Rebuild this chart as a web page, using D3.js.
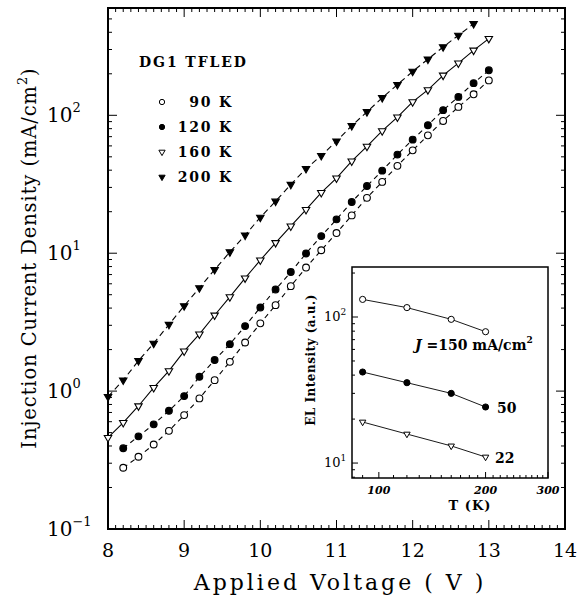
<!DOCTYPE html>
<html>
  <head>
    <script src="https://cdnjs.cloudflare.com/ajax/libs/d3/7.8.5/d3.min.js"></script>
    <style type="text/css">
      body { margin: 0; padding: 0; background: #fff; }
      text { fill: #000; }
      .serif { font-family: "DejaVu Serif", serif; }
      .bold { font-family: "DejaVu Serif", serif; font-weight: bold; }
    </style>
  </head>
  <body>
    <div id="chart"></div>
    <script type="text/javascript">
    // J-V curves, [voltage (V), current density (mA/cm^2)]
    const series90K = [[8.2,0.278],[8.4,0.334],[8.6,0.41],[8.8,0.515],[9.0,0.67],[9.2,0.885],[9.4,1.20],[9.6,1.63],[9.8,2.25],[10.0,3.10],[10.2,4.2],[10.4,5.77],[10.6,7.87],[10.8,10.5],[11.0,14.0],[11.2,18.8],[11.4,25.2],[11.6,32.9],[11.8,43],[12.0,55.7],[12.2,71.6],[12.4,91],[12.6,115],[12.8,142],[13.0,179]];
    const series120K = [[8.2,0.385],[8.4,0.47],[8.6,0.574],[8.8,0.72],[9.0,0.92],[9.2,1.27],[9.4,1.68],[9.6,2.19],[9.8,2.96],[10.0,4.04],[10.2,5.46],[10.4,7.3],[10.6,9.96],[10.8,13.3],[11.0,17.6],[11.2,23.5],[11.4,30.7],[11.6,39.7],[11.8,51.9],[12.0,66.6],[12.2,84.7],[12.4,109],[12.6,136],[12.8,171],[13.0,212]];
    const series160K = [[8.0,0.46],[8.2,0.59],[8.4,0.78],[8.6,1.06],[8.8,1.40],[9.0,1.95],[9.2,2.59],[9.4,3.55],[9.6,4.82],[9.8,6.6],[10.0,8.9],[10.2,11.9],[10.4,15.7],[10.6,20.7],[10.8,27.5],[11.0,35],[11.2,46.5],[11.4,59.5],[11.6,77],[11.8,97],[12.0,125],[12.2,153],[12.4,195],[12.6,239],[12.8,296],[13.0,360]];
    const series200K = [[8.0,0.91],[8.2,1.20],[8.4,1.66],[8.6,2.22],[8.8,3.04],[9.0,4.15],[9.2,5.6],[9.4,7.6],[9.6,10.2],[9.8,13.5],[10.0,18.2],[10.2,23.8],[10.4,31.5],[10.6,41],[10.8,51],[11.0,65],[11.2,84],[11.4,106],[11.6,134],[11.8,167],[12.0,208],[12.2,255],[12.4,313],[12.6,380],[12.8,461]];

    // inset: EL intensity vs temperature at fixed J
    const insetTemps = [90, 120, 160, 200];
    const insetJ150 = [132, 116, 96.4, 79.3];
    const insetJ50 = [42, 35.5, 30, 24.2];
    const insetJ22 = [19.1, 15.8, 13.1, 11.0];

    const xTicks = [8, 9, 10, 11, 12, 13, 14];
    const yTicks = [0.1, 1, 10, 100];
    const yTickExp = ['\u22121', '0', '1', '2'];
    const insetXTicks = [100, 200, 300];
    const insetYTicks = [10, 100];
    const legendNames = ['90 K', '120 K', '160 K', '200 K'];

    const W = 577, H = 603;
    const svg = d3.select('#chart').append('svg')
      .attr('width', W).attr('height', H)
      .style('background', '#fff');

    const x = d3.scaleLinear().domain([8, 14]).range([108, 565]);
    const y = d3.scaleLog().domain([0.1, 600]).range([529, 8]);

    const styles = [
      { data: series90K, sym: d3.symbolCircle, size: 36, fill: '#fff', rot: 0, dash: '5,4' },
      { data: series120K, sym: d3.symbolCircle, size: 36, fill: '#000', rot: 0, dash: '5,4' },
      { data: series160K, sym: d3.symbolTriangle, size: 24, fill: '#fff', rot: 180, dash: null },
      { data: series200K, sym: d3.symbolTriangle, size: 24, fill: '#000', rot: 180, dash: '6,4' }
    ];

    (/* main ticks */() => {
      const g = svg.append('g').attr('stroke', '#000').attr('stroke-width', 1);
      const minorX = d3.range(80, 141).map(d => d / 10);
      minorX.forEach(v => {
        const major = Math.abs(v - Math.round(v)) < 1e-6;
        const len = major ? 9 : 4;
        g.append('line').attr('x1', x(v)).attr('x2', x(v)).attr('y1', 529).attr('y2', 529 - len);
        g.append('line').attr('x1', x(v)).attr('x2', x(v)).attr('y1', 8).attr('y2', 8 + len);
      });
      const minorY = [];
      [0.1, 1, 10, 100].forEach(dec => { for (let k = 1; k <= 9; k++) { if (dec * k <= 600) minorY.push([dec * k, k === 1]); } });
      minorY.forEach(([v, major]) => {
        const len = major ? 9 : 4;
        g.append('line').attr('x1', 108).attr('x2', 108 + len).attr('y1', y(v)).attr('y2', y(v));
        g.append('line').attr('x1', 565).attr('x2', 565 - len).attr('y1', y(v)).attr('y2', y(v));
      });
    })();

    svg.append('rect').attr('x', 108).attr('y', 8).attr('width', 457).attr('height', 521)
      .attr('fill', 'none').attr('stroke', '#000').attr('stroke-width', 2);

    // tick labels
    svg.selectAll('.xlab').data(xTicks).enter().append('text')
      .attr('class', 'serif').attr('x', d => x(d)).attr('y', 557)
      .attr('text-anchor', 'middle').attr('font-size', 19).text(d => d);

    const yl = svg.selectAll('.ylab').data(yTicks).enter().append('text')
      .attr('class', 'serif').attr('x', 47).attr('y', d => y(d) + 7).attr('font-size', 20);
    yl.append('tspan').text('10');
    yl.append('tspan').attr('dy', -10).attr('font-size', 13).text((d, i) => yTickExp[i]);

    // axis titles
    svg.append('text').attr('class', 'serif').attr('x', 340).attr('y', 590)
      .attr('text-anchor', 'middle').attr('font-size', 22).attr('letter-spacing', 3)
      .text('Applied Voltage ( V )');
    const yt = svg.append('text').attr('class', 'serif')
      .attr('transform', 'translate(36,258) rotate(-90)')
      .attr('text-anchor', 'middle').attr('font-size', 19.5).attr('letter-spacing', 0.9);
    yt.append('tspan').text('Injection Current Density (mA/cm');
    yt.append('tspan').attr('dy', -9).attr('font-size', 13).text('2');
    yt.append('tspan').attr('dy', 9).text(')');

    // curves
    const line = d3.line().x(d => x(d[0])).y(d => y(d[1]));
    styles.forEach(s => {
      svg.append('path').datum(s.data).attr('d', line)
        .attr('fill', 'none').attr('stroke', '#000').attr('stroke-width', 1.1)
        .attr('stroke-dasharray', s.dash);
    });
    styles.forEach(s => {
      svg.append('g').selectAll('path').data(s.data).enter().append('path')
        .attr('d', d3.symbol().type(s.sym).size(s.size))
        .attr('transform', d => `translate(${x(d[0])},${y(d[1])}) rotate(${s.rot})`)
        .attr('fill', s.fill).attr('stroke', '#000').attr('stroke-width', 1.1);
    });

    // legend
    svg.append('text').attr('class', 'bold').attr('x', 139).attr('y', 67)
      .attr('font-size', 14).attr('letter-spacing', 1.9).text('DG1 TFLED');
    styles.forEach((s, i) => {
      const ly = 102 + i * 25;
      svg.append('path').attr('d', d3.symbol().type(s.sym).size(s.sym === d3.symbolCircle ? 22 : 17))
        .attr('transform', `translate(162,${ly}) rotate(${s.rot})`)
        .attr('fill', s.fill).attr('stroke', '#000').attr('stroke-width', 1);
      svg.append('text').attr('class', 'bold').attr('x', 233).attr('y', ly + 5)
        .attr('text-anchor', 'end').attr('font-size', 14).attr('letter-spacing', 1.8)
        .text(legendNames[i]);
    });

    (/* inset */() => {
      const L = 352, R = 548, T = 267, B = 478;
      const ix = d3.scaleLog().domain([84, 300]).range([L, R]);
      const iy = d3.scaleLog().domain([7.9, 220]).range([B, T]);
      const g = svg.append('g');
      g.append('rect').attr('x', L).attr('y', T).attr('width', R - L).attr('height', B - T)
        .attr('fill', '#fff').attr('stroke', '#000').attr('stroke-width', 1.5);

      const tg = g.append('g').attr('stroke', '#000').attr('stroke-width', 1);
      d3.range(90, 301, 10).forEach(v => {
        const len = insetXTicks.includes(v) ? 6 : 3;
        tg.append('line').attr('x1', ix(v)).attr('x2', ix(v)).attr('y1', B).attr('y2', B - len);
      });
      [8, 9, 10, 20, 30, 40, 50, 60, 70, 80, 90, 100, 200].forEach(v => {
        const len = insetYTicks.includes(v) ? 6 : 3;
        tg.append('line').attr('x1', L).attr('x2', L + len).attr('y1', iy(v)).attr('y2', iy(v));
      });

      g.selectAll('.ixlab').data(insetXTicks).enter().append('text')
        .attr('class', 'bold').attr('font-style', 'italic').attr('font-size', 11)
        .attr('x', d => ix(d)).attr('y', 494).attr('text-anchor', 'middle').text(d => d);
      const il = g.selectAll('.iylab').data(insetYTicks).enter().append('text')
        .attr('class', 'serif').attr('font-size', 13)
        .attr('x', 324).attr('y', d => iy(d) + 4);
      il.append('tspan').text('10');
      il.append('tspan').attr('dy', -6).attr('font-size', 9).text(d => Math.log10(d));

      g.append('text').attr('class', 'bold').attr('x', 470).attr('y', 510)
        .attr('text-anchor', 'middle').attr('font-size', 13).attr('letter-spacing', 1).text('T (K)');
      g.append('text').attr('class', 'bold')
        .attr('transform', 'translate(315,360) rotate(-90)')
        .attr('text-anchor', 'middle').attr('font-size', 12).attr('letter-spacing', 0.5)
        .text('EL Intensity (a.u.)');

      const sets = [
        { vals: insetJ150, sym: d3.symbolCircle, size: 30, fill: '#fff', rot: 0 },
        { vals: insetJ50, sym: d3.symbolCircle, size: 30, fill: '#000', rot: 0 },
        { vals: insetJ22, sym: d3.symbolTriangle, size: 18, fill: '#fff', rot: 180 }
      ];
      const iline = d3.line().x(d => ix(d[0])).y(d => iy(d[1]));
      sets.forEach(s => {
        const pts = insetTemps.map((t, i) => [t, s.vals[i]]);
        g.append('path').datum(pts).attr('d', iline)
          .attr('fill', 'none').attr('stroke', '#000').attr('stroke-width', 0.9);
        g.append('g').selectAll('path').data(pts).enter().append('path')
          .attr('d', d3.symbol().type(s.sym).size(s.size))
          .attr('transform', d => `translate(${ix(d[0])},${iy(d[1])}) rotate(${s.rot})`)
          .attr('fill', s.fill).attr('stroke', '#000').attr('stroke-width', 1);
      });

      const jl = g.append('text').attr('class', 'bold').attr('x', 415).attr('y', 350).attr('font-size', 14);
      jl.append('tspan').attr('font-style', 'italic').text('J');
      jl.append('tspan').text(' =150 mA/cm');
      jl.append('tspan').attr('dy', -7).attr('font-size', 9).text('2');
      g.append('text').attr('class', 'bold').attr('x', 497).attr('y', 413).attr('font-size', 14).text('50');
      g.append('text').attr('class', 'bold').attr('x', 495).attr('y', 463).attr('font-size', 14).text('22');
    })();
    </script>
  </body>
</html>
